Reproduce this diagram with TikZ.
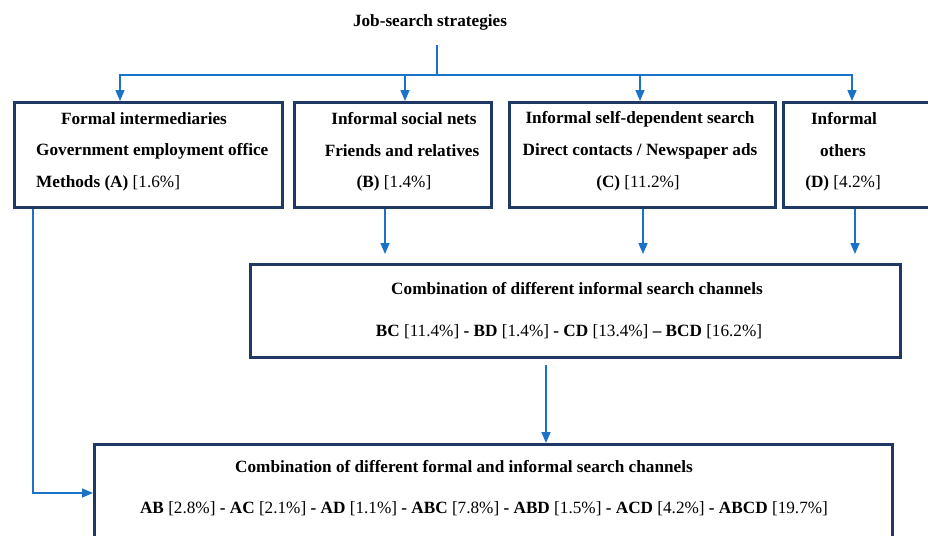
\documentclass[tikz,border=0pt]{standalone}
\usepackage{fontspec}
\setmainfont{Liberation Serif}
\usetikzlibrary{arrows.meta}
\definecolor{navy}{HTML}{1F3864}
\definecolor{arrblue}{HTML}{1A73C6}
\begin{document}
\begin{tikzpicture}[x=1pt,y=-1pt,
  box/.style={draw=navy,line width=2.6pt,fill=none,inner sep=0pt,anchor=north west},
  lbl/.style={font=\fontsize{17.2}{20}\selectfont\bfseries,inner sep=0pt},
  conn/.style={draw=arrblue,line width=1.5pt},
  arr/.style={conn,-{Triangle[length=11pt,width=9pt]}}]
\useasboundingbox (0,0) rectangle (928,535);
% title
\node[lbl] (title) at (430,22) {Job-search strategies};
% boxes
\node[box,minimum width=268pt,minimum height=105pt] (A) at (13,101) {};
\node[box,minimum width=197pt,minimum height=105pt] (B) at (293,101) {};
\node[box,minimum width=266pt,minimum height=105pt] (C) at (508,101) {};
\node[box,minimum width=170pt,minimum height=105pt] (D) at (782,101) {};
\node[box,minimum width=650pt,minimum height=93pt] (E) at (249,263) {};
\node[box,minimum width=798pt,minimum height=120pt] (F) at (93,443) {};
% box texts
\node[lbl] (a1) at (144,119) {Formal intermediaries};
\node[lbl,anchor=west] (a2) at (36,151) {Government employment office};
\node[lbl,anchor=west] (a3) at (36,183) {Methods (A) {\mdseries[1.6\%]}};
\node[lbl] (b1) at (404,119) {Informal social nets};
\node[lbl] (b2) at (402,151) {Friends and relatives};
\node[lbl] (b3) at (394,183) {(B) {\mdseries[1.4\%]}};
\node[lbl] (c1) at (640,119) {Informal self-dependent search};
\node[lbl] (c2) at (640,151) {Direct contacts / Newspaper ads};
\node[lbl] (c3) at (638,183) {(C) {\mdseries[11.2\%]}};
\node[lbl] (d1) at (844,119) {Informal};
\node[lbl] (d2) at (843,151) {others};
\node[lbl] (d3) at (843,183) {(D) {\mdseries[4.2\%]}};
\node[lbl] (e1) at (577,289) {Combination of different informal search channels};
\node[lbl] (e2) at (569,332) {BC {\mdseries[11.4\%]} - BD {\mdseries[1.4\%]} - CD {\mdseries[13.4\%]} -- BCD {\mdseries[16.2\%]}};
\node[lbl] (f1) at (464,467) {Combination of different formal and informal search channels};
\node[lbl] (f2) at (484,509) {AB {\mdseries[2.8\%]} - AC {\mdseries[2.1\%]} - AD {\mdseries[1.1\%]} - ABC {\mdseries[7.8\%]} - ABD {\mdseries[1.5\%]} - ACD {\mdseries[4.2\%]} - ABCD {\mdseries[19.7\%]}};
% connectors
\coordinate (top) at (437,45);
\coordinate (hub) at (437,75);
\draw[conn] (top) -- (hub);
\draw[arr] (hub) -| (A.north -| 120,0);
\draw[arr] (hub) -| (B.north -| 405,0);
\draw[arr] (hub) -| (C.north -| 640,0);
\draw[arr] (hub) -| (D.north -| 852,0);
\coordinate (ein) at (0,254);
\draw[arr] (B.south -| 385,0) -- (ein -| 385,0);
\draw[arr] (C.south -| 643,0) -- (ein -| 643,0);
\draw[arr] (D.south -| 855,0) -- (ein -| 855,0);
\coordinate (eout) at (546,365);
\draw[arr] (eout) -- (F.north -| eout);
\draw[arr] (A.south -| 33,0) |- (F.west |- 0,493);
\end{tikzpicture}
\end{document}
